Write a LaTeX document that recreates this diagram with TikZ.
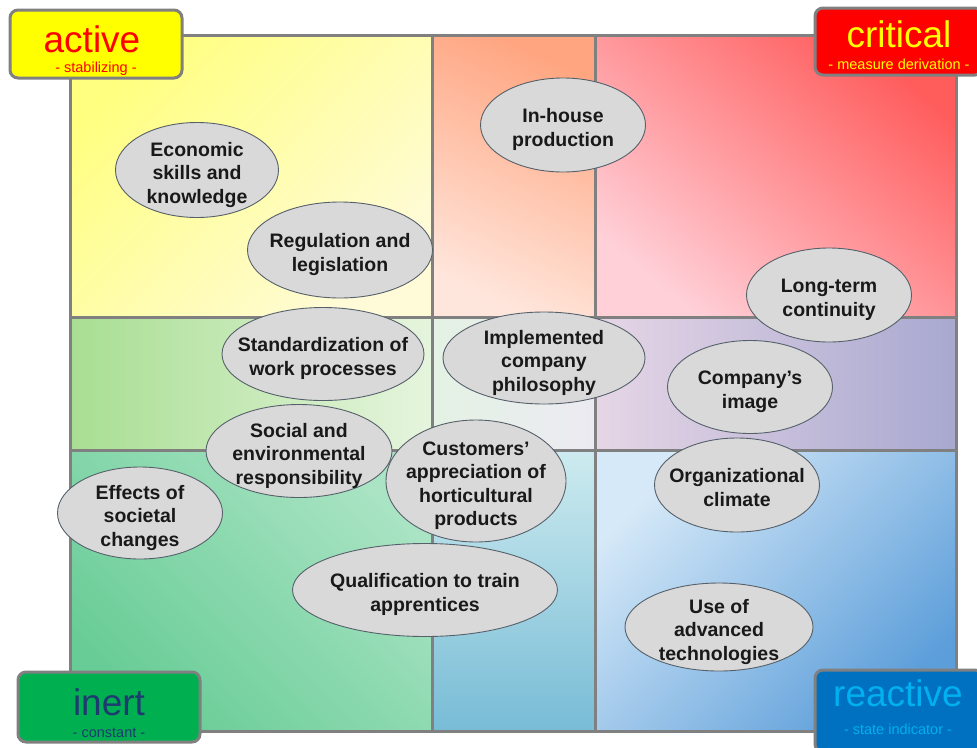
\documentclass[tikz,border=0pt]{standalone}
\usepackage{fontspec}
\setmainfont{Liberation Sans}
\usetikzlibrary{shapes.geometric}

\definecolor{gridgrey}{HTML}{808080}
\definecolor{bubblegrey}{HTML}{D9D9D9}
\definecolor{ringgrey}{HTML}{56606A}
\definecolor{activefill}{HTML}{FFFF00}
\definecolor{activetext}{HTML}{FF0000}
\definecolor{criticalfill}{HTML}{FF0000}
\definecolor{criticaltext}{HTML}{FFFF00}
\definecolor{inertfill}{HTML}{00B050}
\definecolor{inerttext}{HTML}{1F3A70}
\definecolor{reactivefill}{HTML}{0070C0}
\definecolor{reactivetext}{HTML}{00B0F0}

\newcommand\bubtext[1]{\raisebox{-10pt}[0pt][0pt]{\makebox[0pt]{\begin{tabular}{@{}c@{}}#1\end{tabular}}}}

\begin{document}
\begin{tikzpicture}[x=1pt, y=-1pt,
  bubble/.style = {ellipse, draw=ringgrey, fill=bubblegrey, line width=0.9pt, inner sep=0pt, text=black!90,
                   font=\bfseries\fontsize{19.5}{23.5}\selectfont},
  cornerbox/.style = {draw=gridgrey, line width=3pt, rounded corners=8pt, inner sep=0pt},
  title/.style = {anchor=base, inner sep=0pt, font=\fontsize{37}{37}\selectfont},
  subtitle/.style = {anchor=base, inner sep=0pt, font=\fontsize{14.5}{15}\selectfont},
  gridline/.style = {draw=gridgrey, line width=3pt}]
\useasboundingbox (0,0) rectangle (977,747);

% cells
\shade[top color={rgb,255:red,255;green,255;blue,128}, bottom color={rgb,255:red,255;green,251;blue,216}, shading angle=45] (70,35) rectangle (432,317);
\shade[top color={rgb,255:red,255;green,165;blue,128}, bottom color={rgb,255:red,255;green,230;blue,220}, shading angle=-25] (432,35) rectangle (595,317);
\shade[top color={rgb,255:red,255;green,92;blue,92}, bottom color={rgb,255:red,255;green,208;blue,216}, shading angle=-40] (595,35) rectangle (956,317);
\shade[left color={rgb,255:red,168;green,222;blue,146}, right color={rgb,255:red,230;green,245;blue,222}] (70,317) rectangle (432,450);
\shade[left color={rgb,255:red,228;green,242;blue,228}, right color={rgb,255:red,236;green,234;blue,242}] (432,317) rectangle (595,450);
\shade[left color={rgb,255:red,230;green,214;blue,230}, right color={rgb,255:red,168;green,168;blue,208}] (595,317) rectangle (956,450);
\shade[top color={rgb,255:red,170;green,228;blue,196}, bottom color={rgb,255:red,104;green,204;blue,150}, shading angle=-45] (70,450) rectangle (432,731);
\shade[top color={rgb,255:red,205;green,235;blue,239}, bottom color={rgb,255:red,120;green,188;blue,214}] (432,450) rectangle (595,731);
\shade[top color={rgb,255:red,214;green,233;blue,248}, bottom color={rgb,255:red,92;green,158;blue,218}, shading angle=45] (595,450) rectangle (956,731);

% grid
\draw[gridline] (70,35) rectangle (956,731);
\draw[gridline] (432,35) -- (432,731);
\draw[gridline] (595,35) -- (595,731);
\draw[gridline] (70,317) -- (956,317);
\draw[gridline] (70,450) -- (956,450);

% factors
\node[bubble, minimum width=163pt, minimum height=95pt] (econ) at (197,170) {\bubtext{Economic\\skills and\\knowledge}};
\node[bubble, minimum width=185pt, minimum height=96pt] (regul) at (340,250) {\bubtext{Regulation and\\legislation}};
\node[bubble, minimum width=165pt, minimum height=94pt] (inhouse) at (563,125) {\bubtext{In-house\\production}};
\node[bubble, minimum width=165pt, minimum height=94pt] (longterm) at (829,295) {\bubtext{Long-term\\continuity}};
\node[bubble, minimum width=202pt, minimum height=93pt] (standard) at (323,354) {\bubtext{Standardization of\\work processes}};
\node[bubble, minimum width=202pt, minimum height=92pt] (philo) at (544,358) {\bubtext{Implemented\\company\\philosophy}};
\node[bubble, minimum width=165pt, minimum height=93pt] (image) at (750,387) {\bubtext{Company’s\\image}};
\node[bubble, minimum width=186pt, minimum height=93pt] (social) at (299,451) {\bubtext{Social and\\environmental\\responsibility}};
\node[bubble, minimum width=165pt, minimum height=92pt] (societal) at (140,513) {\bubtext{Effects of\\societal\\changes}};
\node[bubble, minimum width=180pt, minimum height=122pt] (customers) at (476,481) {\bubtext{Customers’\\appreciation of\\horticultural\\products}};
\node[bubble, minimum width=165pt, minimum height=94pt] (climate) at (737,485) {\bubtext{Organizational\\climate}};
\node[bubble, minimum width=265pt, minimum height=93pt] (apprent) at (425,590) {\bubtext{Qualification to train\\apprentices}};
\node[bubble, minimum width=188pt, minimum height=88pt] (techno) at (719,627) {\bubtext{Use of\\advanced\\technologies}};

% corner labels
\node[cornerbox, fill=activefill, minimum width=172pt, minimum height=68pt] (activebox) at (96,44) {};
\node[title, text=activetext] (activetitle) at (92,52) {active};
\node[subtitle, text=activetext] (activesub) at (96,72) {- stabilizing -};

\node[cornerbox, fill=criticalfill, minimum width=168pt, minimum height=67pt] (criticalbox) at (899,41.5) {};
\node[title, text=criticaltext] (criticaltitle) at (899,47) {critical};
\node[subtitle, text=criticaltext] (criticalsub) at (899,69) {- measure derivation -};

\node[cornerbox, fill=inertfill, minimum width=182pt, minimum height=70pt] (inertbox) at (109,707) {};
\node[title, text=inerttext] (inerttitle) at (109,715) {inert};
\node[subtitle, text=inerttext] (inertsub) at (109,737) {- constant -};

\node[cornerbox, fill=reactivefill, minimum width=168pt, minimum height=82pt] (reactivebox) at (899,711) {};
\node[title, text=reactivetext] (reactivetitle) at (898,706) {reactive};
\node[subtitle, text=reactivetext] (reactivesub) at (898,734) {- state indicator -};
\end{tikzpicture}
\end{document}
